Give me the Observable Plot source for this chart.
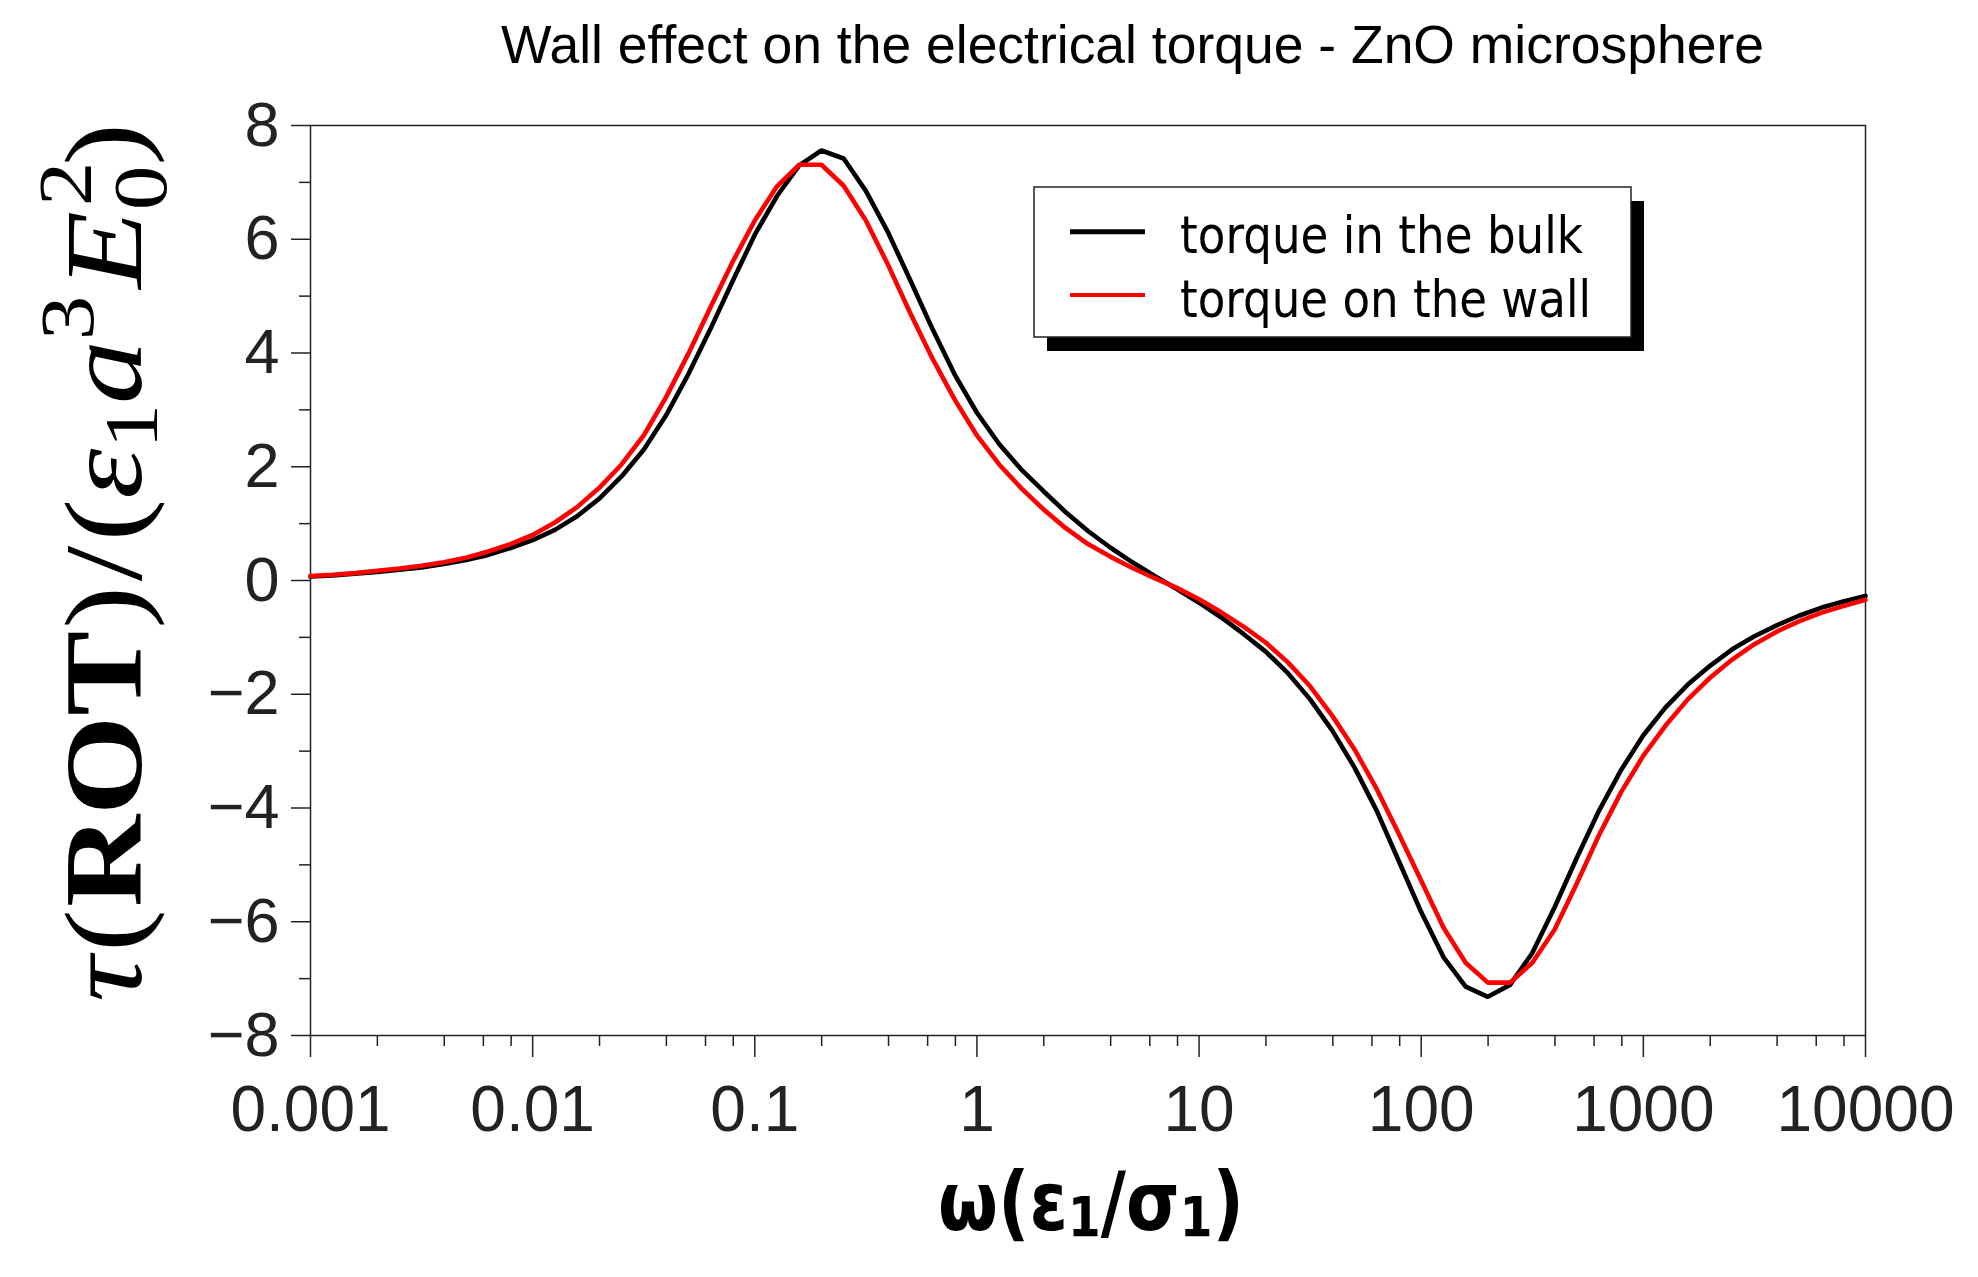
<!DOCTYPE html>
<html>
<head>
<meta charset="utf-8">
<script src="https://cdn.jsdelivr.net/npm/d3@7"></script>
<script src="https://cdn.jsdelivr.net/npm/@observablehq/plot@0.6"></script>
<style>
  html, body { margin: 0; padding: 0; background: #fff; }
  #fig { position: relative; width: 1978px; height: 1277px; overflow: hidden; background: #fff; }
  #title { position: absolute; top: 18px; left: 500px; z-index: 2; font-family: "Liberation Sans", Arial, sans-serif;
           font-size: 53px; line-height: 53px; white-space: nowrap; color: #000; transform-origin: left top; }
  #chart { position: absolute; left: 0; top: 78px; z-index: 1; }
  #legend { position: absolute; left: 1020px; top: 175px; z-index: 3; }
</style>
</head>
<body>
<div id="fig">
  <div id="title">Wall effect on the electrical torque - ZnO microsphere</div>
  <div id="chart"></div>
  <svg id="legend" width="650" height="200"></svg>
</div>
<script>
// ---- data ----
const omega = [
  1e-3, 1.259e-3, 1.585e-3, 1.995e-3, 2.512e-3, 3.162e-3, 3.981e-3, 5.012e-3, 6.31e-3, 7.943e-3,
  1e-2, 1.259e-2, 1.585e-2, 1.995e-2, 2.512e-2, 3.162e-2, 3.981e-2, 5.012e-2, 6.31e-2, 7.943e-2,
  0.1, 0.1259, 0.1585, 0.1995, 0.2512, 0.3162, 0.3981, 0.5012, 0.631, 0.7943,
  1, 1.259, 1.585, 1.995, 2.512, 3.162, 3.981, 5.012, 6.31, 7.943,
  10, 12.59, 15.85, 19.95, 25.12, 31.62, 39.81, 50.12, 63.1, 79.43,
  100, 125.9, 158.5, 199.5, 251.2, 316.2, 398.1, 501.2, 631, 794.3,
  1000, 1259, 1585, 1995, 2512, 3162, 3981, 5012, 6310, 7943,
  10000
];
const torqueBulk = [
  0.07, 0.09, 0.12, 0.15, 0.19, 0.23, 0.29, 0.36, 0.45, 0.57,
  0.71, 0.89, 1.13, 1.44, 1.83, 2.30, 2.90, 3.62, 4.42, 5.26,
  6.08, 6.76, 7.30, 7.56, 7.42, 6.85, 6.12, 5.28, 4.42, 3.62,
  2.95, 2.40, 1.95, 1.57, 1.20, 0.87, 0.58, 0.32, 0.08, -0.15,
  -0.39, -0.65, -0.94, -1.25, -1.63, -2.09, -2.64, -3.29, -4.05, -4.94,
  -5.83, -6.62, -7.14, -7.32, -7.11, -6.55, -5.75, -4.88, -4.05, -3.33,
  -2.72, -2.23, -1.83, -1.50, -1.21, -0.98, -0.79, -0.62, -0.48, -0.37,
  -0.27
];
const torqueWall = [
  0.08, 0.10, 0.13, 0.17, 0.21, 0.26, 0.32, 0.40, 0.51, 0.64,
  0.80, 1.02, 1.29, 1.63, 2.04, 2.55, 3.22, 3.98, 4.80, 5.60,
  6.33, 6.93, 7.31, 7.31, 6.94, 6.33, 5.55, 4.70, 3.90, 3.18,
  2.55, 2.04, 1.62, 1.25, 0.92, 0.64, 0.42, 0.22, 0.04, -0.13,
  -0.33, -0.56, -0.81, -1.09, -1.44, -1.86, -2.38, -2.97, -3.67, -4.46,
  -5.28, -6.10, -6.72, -7.07, -7.07, -6.72, -6.14, -5.33, -4.48, -3.72,
  -3.08, -2.55, -2.09, -1.71, -1.39, -1.12, -0.90, -0.72, -0.57, -0.45,
  -0.34
];
const seriesNames = ["torque in the bulk", "torque on the wall"];
const seriesColors = ["#000000", "#ff0000"];

const xTicks = [0.001, 0.01, 0.1, 1, 10, 100, 1000, 10000];
const xTickLabels = ["0.001", "0.01", "0.1", "1", "10", "100", "1000", "10000"];
const xMinorTicks = [0.002, 0.004, 0.006, 0.008, 0.02, 0.04, 0.06, 0.08, 0.2, 0.4, 0.6, 0.8,
  2, 4, 6, 8, 20, 40, 60, 80, 200, 400, 600, 800, 2000, 4000, 6000, 8000];
const yTicks = [-8, -6, -4, -2, 0, 2, 4, 6, 8];
const yTickLabels = ["\u22128", "\u22126", "\u22124", "\u22122", "0", "2", "4", "6", "8"];
const yMinorTicks = [-7, -5, -3, -1, 1, 3, 5, 7];

// ---- build table ----
const rows = [];
omega.forEach((w, i) => rows.push({w, v: torqueBulk[i], s: seriesNames[0]}));
omega.forEach((w, i) => rows.push({w, v: torqueWall[i], s: seriesNames[1]}));

const TOP = 78; // page offset of the svg
const chart = Plot.plot({
  width: 1978,
  height: 1277 - TOP,
  marginLeft: 310,
  marginRight: 113,
  marginTop: 125 - TOP,
  marginBottom: 242,
  x: {type: "log", domain: [0.001, 10000]},
  y: {domain: [-8, 8]},
  color: {domain: seriesNames, range: seriesColors},
  style: {fontFamily: '"Liberation Sans", Arial, sans-serif', fontSize: "63px", color: "#222", background: "transparent", overflow: "visible"},
  marks: [
    Plot.axisX(xMinorTicks, {tickSize: 11, tickFormat: () => "", label: null, strokeWidth: 1.5}),
    Plot.axisX(xTicks, {tickSize: 22, tickPadding: 28, fontSize: 64, label: null, strokeWidth: 1.5,
      tickFormat: d => xTickLabels[xTicks.indexOf(d)]}),
    Plot.axisY(yMinorTicks, {tickSize: 11, tickFormat: () => "", label: null, strokeWidth: 1.5}),
    Plot.axisY(yTicks, {tickSize: 19, tickPadding: 12, fontSize: 63, label: null, strokeWidth: 1.5,
      tickFormat: d => yTickLabels[yTicks.indexOf(d)]}),
    Plot.frame({stroke: "#222", strokeWidth: 1.5}),
    Plot.line(rows, {x: "w", y: "v", z: "s", stroke: "s", strokeWidth: 4.6, strokeLinejoin: "miter"})
  ]
});
document.getElementById("chart").appendChild(chart);

const svg = d3.select(chart);
function tsp(parent, t, o) {
  const s = parent.append("tspan").text(t);
  for (const k in (o || {})) s.attr(k, o[k]);
  return s;
}

// ---- x axis label ----
const xl = svg.append("text")
  .attr("text-anchor", "start")
  .attr("font-family", '"DejaVu Sans", sans-serif')
  .attr("font-weight", "bold")
  .attr("font-size", 82)
  .attr("fill", "#000");
tsp(xl, "\u03C9(\u03B5");
tsp(xl, "1", {"font-size": 56, dy: 6});
tsp(xl, "/\u03C3", {dy: -6});
tsp(xl, "1", {"font-size": 56, dy: 6});
tsp(xl, ")", {dy: -6});
{
  const b = xl.node().getBBox();
  const target = 306;
  const k = target / b.width;
  xl.attr("transform", `translate(${1091 - target / 2 - b.x * k},${1230 - TOP}) scale(${k},1)`);
}

// ---- y axis label ----
const yl = svg.append("text")
  .attr("text-anchor", "start")
  .attr("font-family", '"Liberation Serif", "Times New Roman", serif')
  .attr("font-size", 110)
  .attr("fill", "#000");
tsp(yl, "\u03C4", {"font-style": "italic"});
tsp(yl, "(", {dx: 4});
tsp(yl, "ROT", {"font-weight": "bold", dx: 2});
tsp(yl, ")", {dx: 2});
tsp(yl, "/", {dx: 4});
tsp(yl, "(", {dx: 4});
tsp(yl, "\u03B5", {"font-style": "italic"});
tsp(yl, "1", {"font-size": 77, dy: 16});
tsp(yl, "a", {"font-style": "italic", dy: -16});
tsp(yl, "3", {"font-size": 77, dy: -48});
tsp(yl, "E", {"font-style": "italic", dy: 48, dx: 6});
tsp(yl, "2", {"font-size": 77, dy: -50, dx: 4});
tsp(yl, "0", {"font-size": 77, dy: 75, dx: -42});
tsp(yl, ")", {dy: -25});
{
  const b = yl.node().getBBox();
  const L = 879;
  const k = L / b.width;
  const cy = 562.5 - TOP;
  yl.attr("transform", `translate(141,${cy + L / 2}) rotate(-90) scale(${k},1) translate(${-b.x},0)`);
}

// ---- title fit ----
{
  const t = document.getElementById("title");
  const w = t.getBoundingClientRect().width;
  const target = 1263;
  t.style.left = (1132 - target / 2) + "px";
  t.style.transform = `scaleX(${target / w})`;
}

// ---- legend ----
const lg = d3.select("#legend");
lg.append("rect").attr("x", 27).attr("y", 26).attr("width", 597).attr("height", 150).attr("fill", "#000");
lg.append("rect").attr("x", 14).attr("y", 12).attr("width", 597).attr("height", 150)
  .attr("fill", "#fff").attr("stroke", "#222").attr("stroke-width", 1.5);
const legendRows = [
  {name: seriesNames[0], color: seriesColors[0], ly: 56.7, ty: 78, len: 403, sw: 5},
  {name: seriesNames[1], color: seriesColors[1], ly: 120, ty: 142, len: 411, sw: 4}
];
legendRows.forEach(r => {
  lg.append("line").attr("x1", 50).attr("x2", 125).attr("y1", r.ly).attr("y2", r.ly)
    .attr("stroke", r.color).attr("stroke-width", r.sw);
  lg.append("text").attr("x", 160).attr("y", r.ty)
    .attr("font-family", '"DejaVu Sans", sans-serif').attr("font-size", 52).attr("fill", "#000")
    .attr("textLength", r.len).attr("lengthAdjust", "spacingAndGlyphs")
    .text(r.name);
});
</script>
</body>
</html>
